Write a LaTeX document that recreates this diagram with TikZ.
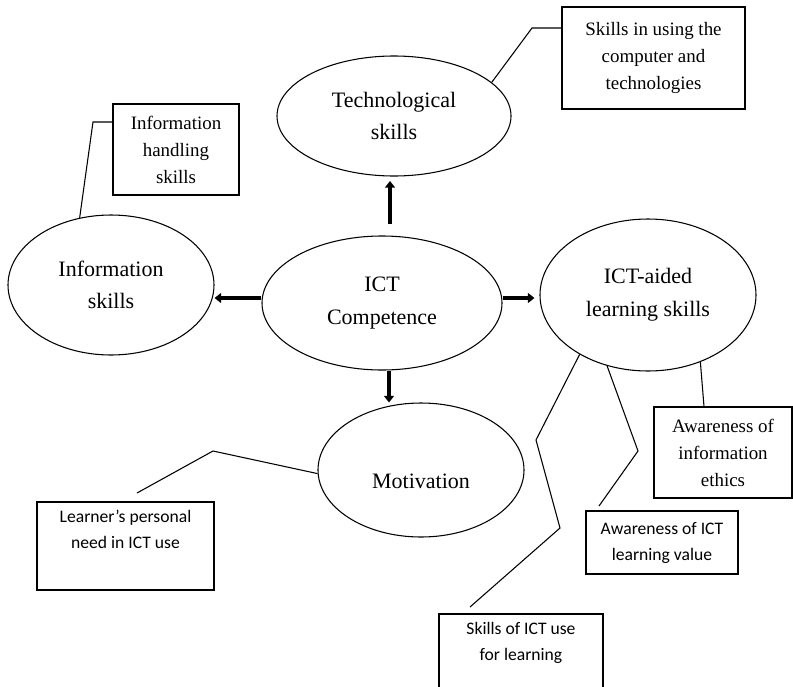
\documentclass[tikz,border=0pt]{standalone}
\usepackage{fontspec}
\setmainfont{Liberation Serif}
\newfontfamily\calibrifont{Carlito}
\usetikzlibrary{shapes.geometric, arrows.meta}

\begin{document}
\begin{tikzpicture}[
x=0.75pt, y=-0.75pt,
skillnode/.style={ellipse, draw, line width=0.8pt, inner sep=0pt, align=center, font=\fontsize{16.5}{24.5}\selectfont},
serifbox/.style={rectangle, draw, line width=0.9pt, inner sep=0pt, align=center, font=\fontsize{14.2}{20.25}\selectfont},
sansbox/.style={rectangle, draw, line width=0.9pt, inner sep=0pt, align=center, font=\calibrifont\fontsize{13.2}{19.5}\selectfont},
flow/.style={line width=2.4pt, -{Triangle[length=5pt,width=7.5pt]}},
leader/.style={line width=0.8pt},
]
\clip (0,0) rectangle (793,686);
%Nodes
\node[skillnode, minimum width=175.5pt, minimum height=90pt] (techskill) at (394,116) {Technological\\skills};
\node[skillnode, minimum width=154.5pt, minimum height=105pt] (infoskill) at (111,285) {Information\\skills};
\node[skillnode, minimum width=180pt, minimum height=100.5pt] (ictcomp) at (382,303) {ICT\\Competence};
\node[skillnode, minimum width=162pt, minimum height=114pt] (aidskill) at (648,295) {ICT-aided\\learning skills};
\node[skillnode, minimum width=154.5pt, minimum height=100.5pt, text height=27pt, text depth=0pt] (motiv) at (421,470) {Motivation};

\node[serifbox, minimum width=94.5pt, minimum height=68.25pt] (infobox) at (176,149.5) {Information\\handling\\skills};
\node[serifbox, minimum width=137.25pt, minimum height=76.5pt] (skillbox) at (653.5,58) {Skills in using the\\computer and\\technologies};
\node[serifbox, minimum width=103.5pt, minimum height=68.25pt] (ethicsbox) at (723,452.5) {Awareness of\\information\\ethics};
\node[sansbox, minimum width=114pt, minimum height=47.25pt] (valuebox) at (662,542.5) {Awareness of ICT\\learning value};
\node[sansbox, minimum width=132.75pt, minimum height=66pt] (learnbox) at (125.5,546) {Learner’s personal\\need in ICT use\\ \strut};
\node[sansbox, minimum width=123pt, minimum height=66pt] (usebox) at (521,658) {Skills of ICT use\\for learning\\ \strut};

\coordinate (learnend) at (137,493);
\coordinate (valueend) at (599,506);
\coordinate (useend) at (470,607);

%Arrows
\draw[flow] (390,0 |- ictcomp.north) ++(0,-11) -- (390,181);
\draw[flow] (389,0 |- ictcomp.south) -- (389,0 |- motiv.north);
\draw[flow] (ictcomp.west |- 0,298) -- (infoskill.east |- 0,298);
\draw[flow, shorten >=3.75pt] (ictcomp.east |- 0,298) -- (aidskill.west |- 0,298);

%Lines
\draw[leader] (techskill.19) -- (532,28) -- (532,28 -| skillbox.west);
\draw[leader] (infoskill.115) -- (93,122) -- (93,122 -| infobox.west);
\draw[leader] (motiv.182) -- (213,451) -- (learnend);
\draw[leader] (aidskill.-52) -- (704,0 |- ethicsbox.north);
\draw[leader] (aidskill.-120) -- (638,451) -- (valueend);
\draw[leader] (aidskill.-139) -- (536,440) -- (560,528) -- (useend);

\end{tikzpicture}
\end{document}
